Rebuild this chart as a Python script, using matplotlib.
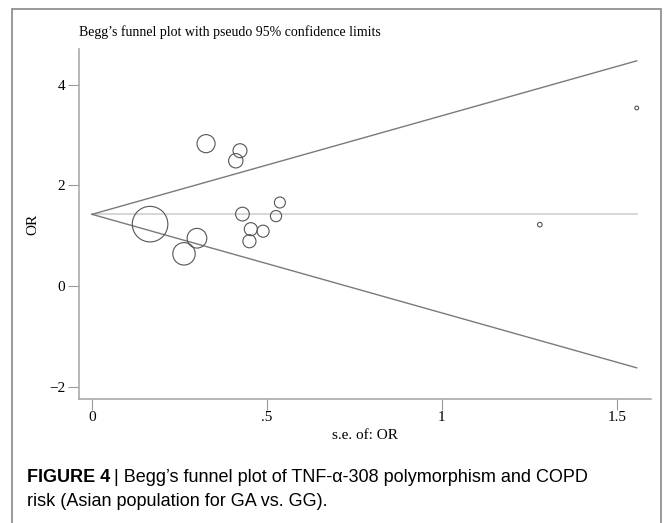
import matplotlib
matplotlib.use('Agg')
import matplotlib.pyplot as plt
import numpy as np

# study data: standard error of log OR and log OR
se = [0.166, 0.263, 0.300, 0.326, 0.423, 0.411, 0.430, 0.454, 0.450, 0.489,
      0.526, 0.537, 1.28, 1.557]
log_or = [1.23, 0.64, 0.95, 2.83, 2.69, 2.49, 1.43, 1.13, 0.89, 1.09,
          1.39, 1.66, 1.22, 3.54]
pooled = 1.425

xticks = [0, 0.5, 1, 1.5]
xtick_labels = ['0', '.5', '1', '1.5']
yticks = [-2, 0, 2, 4]
ytick_labels = ['\u22122', '0', '2', '4']

serif = ['Liberation Serif', 'DejaVu Serif']
sans = ['Liberation Sans', 'DejaVu Sans']

fig = plt.figure(figsize=(6.64, 5.23), dpi=100)
ax = fig.add_axes([0.119, 0.2371, 0.861, 0.6692])

# pseudo 95% confidence limits
se_max = max(se)
ax.plot([0, se_max], [pooled, pooled], color='#d0d0d0', lw=1.2, zorder=1)
ax.plot([0, se_max], [pooled, pooled + 1.96 * se_max], color='#7a7a7a', lw=1.0, zorder=2)
ax.plot([0, se_max], [pooled, pooled - 1.96 * se_max], color='#7a7a7a', lw=1.0, zorder=2)

# symbol area proportional to weight (1/se^2)
sizes = [(4.25 / s) ** 2 for s in se]
ax.scatter(se, log_or, s=sizes, facecolors='none', edgecolors='#555555',
           linewidths=0.8, zorder=3)

ax.set_xlim(-0.0371, 1.597)
ax.set_ylim(-2.2465, 4.712)
ax.set_xticks(xticks)
ax.set_xticklabels(xtick_labels, family=serif, fontsize=11)
ax.set_yticks(yticks)
ax.set_yticklabels(ytick_labels, family=serif, fontsize=11)
ax.tick_params(direction='out', length=8, width=0.8, color='#999999', pad=2)
ax.tick_params(axis='x', pad=1)

for side in ['top', 'right']:
    ax.spines[side].set_visible(False)
for side in ['left', 'bottom']:
    ax.spines[side].set_color('#aaaaaa')
    ax.spines[side].set_linewidth(1.2)

ax.set_xlabel('s.e. of: OR', family=serif, fontsize=11, labelpad=3)
ax.set_ylabel('OR', family=serif, fontsize=11, labelpad=7)

fig.text(79 / 664, 1 - 32 / 523, 'Begg\u2019s funnel plot with pseudo 95% confidence limits',
         family=serif, fontsize=10, va='center', ha='left')

# panel border
fig.add_artist(plt.Rectangle((12 / 664, -0.05), (661 - 12) / 664, 1 - 9 / 523 + 0.05,
                             transform=fig.transFigure, fill=False,
                             edgecolor='#888888', lw=1.2))

# caption: bold label, then the rest placed right after it
t = fig.text(27 / 664, 1 - 478 / 523, 'FIGURE 4', family=sans, fontsize=13,
             fontweight='bold', va='center', ha='left')
fig.canvas.draw()
bb = t.get_window_extent().transformed(fig.transFigure.inverted())
fig.text(bb.x1 + 4 / 664, 1 - 478 / 523,
         '| Begg\u2019s funnel plot of TNF-\u03b1-308 polymorphism and COPD',
         family=sans, fontsize=13, va='center', ha='left')
fig.text(27 / 664, 1 - 501 / 523, 'risk (Asian population for GA vs. GG).',
         family=sans, fontsize=13, va='center', ha='left')

fig.savefig('out.png', dpi=100)
